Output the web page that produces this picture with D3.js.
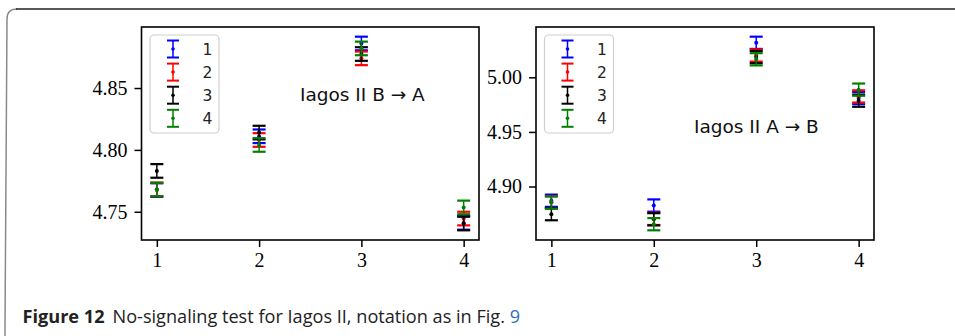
<!DOCTYPE html>
<html lang="en-US">
<head>
<meta charset="UTF-8" />
<title>Figure 12</title>
<style>
  body { margin: 0; background: #fff; }
  .tick text { font-family: "Liberation Serif", serif; font-size: 20px; fill: #000; }
  .tick line { stroke: #000; stroke-width: 1.5px; }
  .legend-label { font-family: "DejaVu Sans", sans-serif; font-size: 15.5px; fill: #222; }
  .panel-label { font-family: "DejaVu Sans", sans-serif; font-size: 18.5px; fill: #111; }
  .caption { font-family: "Open Sans", sans-serif; fill: #222; }
</style>
<script src="https://cdn.jsdelivr.net/npm/d3@7"></script>
</head>
<body>
<div id="chart"></div>
<script>
  const positions = [1, 2, 3, 4];
  const seriesLabels = ["1", "2", "3", "4"];
  const seriesColors = ["#0000ff", "#ff0000", "#000000", "#008000"];

  // Iagos II B -> A
  const bToA1 = [4.7675, 4.811, 4.886, 4.741];
  const bToA2 = [4.768, 4.808, 4.874, 4.7445];
  const bToA3 = [4.783, 4.814, 4.8775, 4.7405];
  const bToA4 = [4.768, 4.804, 4.882, 4.7535];
  const bToAErr = [0.0055, 0.0055, 0.0055, 0.0055];

  // Iagos II A -> B
  const aToB1 = [4.887, 4.8826, 5.0316, 4.981];
  const aToB2 = [4.8855, 4.8704, 5.02, 4.9825];
  const aToB3 = [4.8747, 4.87, 5.0185, 4.9786];
  const aToB4 = [4.8853, 4.8655, 5.0165, 4.9887];
  const aToBErr = [0.0056, 0.0056, 0.0056, 0.0056];

  const W = 955, H = 336;
  const svg = d3.select("#chart").append("svg")
    .attr("width", W).attr("height", H);

  svg.append("rect").attr("width", W).attr("height", H).attr("fill", "#fff");

  // page frame
  svg.append("path")
    .attr("d", "M5,340 Q5,334 5,326 L7,19 Q7,9 17,9")
    .attr("fill", "none").attr("stroke", "#8a8a8a").attr("stroke-width", 1.5);
  svg.append("path")
    .attr("d", "M16,9 L960,9")
    .attr("fill", "none").attr("stroke", "#222").attr("stroke-width", 1.5);

  function drawPanel(cfg) {
    const top = 27, bottom = 240;
    const g = svg.append("g");

    const x = d3.scaleLinear().domain([0.85, 4.15]).range([cfg.left, cfg.right]);
    let lo = Infinity, hi = -Infinity;
    cfg.series.forEach(s => s.forEach((v, i) => {
      lo = Math.min(lo, v - cfg.err[i]);
      hi = Math.max(hi, v + cfg.err[i]);
    }));
    const pad = (hi - lo) * 0.05;
    const y = d3.scaleLinear().domain([lo - pad, hi + pad]).range([bottom, top]);

    const xAxis = g.append("g")
      .attr("transform", `translate(0,${bottom})`)
      .call(d3.axisBottom(x).tickValues(positions).tickFormat(d3.format("d"))
        .tickSize(7).tickSizeOuter(0).tickPadding(6));
    xAxis.select(".domain").remove();

    const yAxis = g.append("g")
      .attr("transform", `translate(${cfg.left},0)`)
      .call(d3.axisLeft(y).ticks(3).tickFormat(d3.format(".2f"))
        .tickSize(7).tickSizeOuter(0).tickPadding(7));
    yAxis.select(".domain").remove();

    // error bars
    cfg.series.forEach((s, k) => {
      const eg = g.append("g").attr("stroke", seriesColors[k]).attr("fill", seriesColors[k]);
      s.forEach((v, i) => {
        const cx = x(positions[i]);
        const y1 = y(v + cfg.err[i]), y2 = y(v - cfg.err[i]);
        eg.append("line").attr("x1", cx).attr("x2", cx).attr("y1", y1).attr("y2", y2)
          .attr("stroke-width", 1.5);
        [y1, y2].forEach(yy => eg.append("line")
          .attr("x1", cx - 6.5).attr("x2", cx + 6.5).attr("y1", yy).attr("y2", yy)
          .attr("stroke-width", 2.2));
        eg.append("circle").attr("cx", cx).attr("cy", y(v)).attr("r", 2).attr("stroke", "none");
      });
    });

    // spines
    g.append("rect")
      .attr("x", cfg.left).attr("y", top)
      .attr("width", cfg.right - cfg.left).attr("height", bottom - top)
      .attr("fill", "none").attr("stroke", "#000").attr("stroke-width", 1.6);

    // legend
    const lx = cfg.left + 8.5, ly = 35;
    const lg = g.append("g");
    lg.append("rect")
      .attr("x", lx).attr("y", ly).attr("width", 69).attr("height", 98)
      .attr("rx", 4).attr("fill", "#fff").attr("fill-opacity", 0.8)
      .attr("stroke", "#d0d0d0").attr("stroke-width", 1.2);
    seriesLabels.forEach((lab, k) => {
      const ry = 49 + k * 23.1;
      const sx = lx + 23;
      const c = seriesColors[k];
      lg.append("line").attr("x1", sx).attr("x2", sx).attr("y1", ry - 8.5).attr("y2", ry + 8.5)
        .attr("stroke", c).attr("stroke-width", 1.5);
      [ry - 8.5, ry + 8.5].forEach(yy => lg.append("line")
        .attr("x1", sx - 6).attr("x2", sx + 6).attr("y1", yy).attr("y2", yy)
        .attr("stroke", c).attr("stroke-width", 2));
      lg.append("circle").attr("cx", sx).attr("cy", ry).attr("r", 1.8).attr("fill", c);
      lg.append("text").attr("class", "legend-label")
        .attr("x", lx + 57.5).attr("y", ry + 5.5).attr("text-anchor", "middle").text(lab);
    });

    g.append("text").attr("class", "panel-label")
      .attr("x", cfg.labelX).attr("y", cfg.labelY).text(cfg.label);
  }

  drawPanel({
    left: 141.5, right: 479,
    series: [bToA1, bToA2, bToA3, bToA4], err: bToAErr,
    label: "Iagos II B \u2192 A", labelX: 300, labelY: 101
  });
  drawPanel({
    left: 536, right: 874,
    series: [aToB1, aToB2, aToB3, aToB4], err: aToBErr,
    label: "Iagos II A \u2192 B", labelX: 694, labelY: 133
  });

  // caption
  const cap = svg.append("text").attr("class", "caption")
    .attr("x", 22.5).attr("y", 323).style("font-size", "16px");
  cap.append("tspan").attr("font-weight", "bold").text("Figure 12");
  cap.append("tspan").attr("dx", 8).text("No-signaling test for Iagos II, notation as in Fig. ");
  cap.append("tspan").attr("fill", "#2f6fc0").text("9");
  const len = cap.node().getComputedTextLength() + 8;
  cap.style("font-size", (16 * 499 / len).toFixed(2) + "px");
</script>
</body>
</html>
